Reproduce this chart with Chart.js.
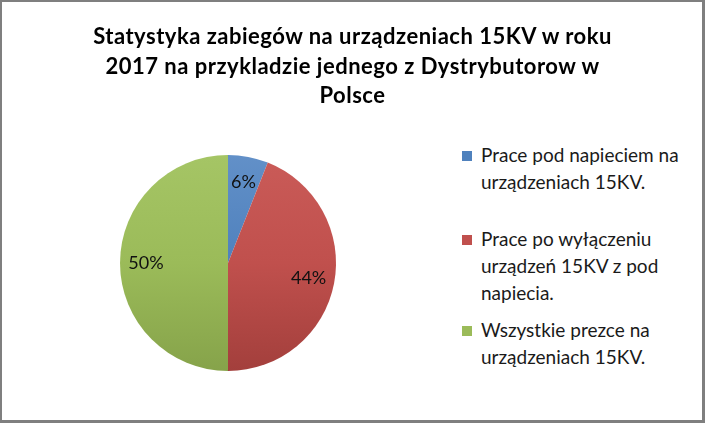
<!DOCTYPE html>
<html>
<head>
<meta charset="utf-8">
<script src="https://cdn.jsdelivr.net/npm/chart.js@4.4.1/dist/chart.umd.min.js"></script>
<style>
  html, body { margin: 0; padding: 0; background: #fff; }
  #wrap { position: relative; width: 705px; height: 423px; overflow: hidden; background: #fff; }
  #frame { position: absolute; left: 0; top: 0; width: 705px; height: 423px; box-sizing: border-box;
           border: 2px solid #7f7f7f; border-right-width: 3px; border-bottom-width: 3px; pointer-events: none; }
  #pie { position: absolute; left: 0; top: 0; }
  #title { position: absolute; left: 0; top: 21px; width: 705px; text-align: center;
           font-family: Lato, sans-serif; font-weight: bold; font-size: 22px; letter-spacing: 0.5px;
           line-height: 29.5px; color: #000; }
  #legend { position: absolute; left: 462px; top: 141px; width: 240px;
            font-family: Lato, sans-serif; font-size: 19px; line-height: 27px; color: #1a1a1a; }
  .item { position: relative; padding-left: 19px; }
  .box { position: absolute; left: 0; top: 10px; width: 10px; height: 10px; }
</style>
</head>
<body>
<div id="wrap">
  <canvas id="pie" width="450" height="423"></canvas>
  <div id="title"></div>
  <div id="legend"></div>
  <div id="frame"></div>
</div>
<script>
// chart data
const titleLines = ['Statystyka zabiegów na urządzeniach 15KV w roku',
                    '2017 na przykladzie jednego z Dystrybutorow w',
                    'Polsce'];
const categories = [
    ['Prace pod napieciem na', 'urządzeniach 15KV.'],
    ['Prace po wyłączeniu', 'urządzeń 15KV z pod', 'napiecia.'],
    ['Wszystkie prezce na', 'urządzeniach 15KV.']
];
const shares = [6, 44, 50];
const colors = ['#4f81bd', '#c0504d', '#9bbb59'];
const lightColors = ['#6290c8', '#ca5b58', '#a5c565'];
const darkColors = ['#41699a', '#a33f3c', '#86a34a'];

// title + legend as html text
document.getElementById('title').innerHTML = titleLines.join('<br>');
const gaps = [30, 10, 0];
document.getElementById('legend').innerHTML = categories.map((lines, i) =>
    `<div class="item" style="margin-bottom:${gaps[i]}px"><span class="box" style="background:${colors[i]}"></span>${lines.join('<br>')}</div>`
).join('');

// percentage labels inside slices
const sliceLabels = {
    id: 'sliceLabels',
    afterDatasetsDraw(chart) {
        const ctx = chart.ctx;
        const meta = chart.getDatasetMeta(0);
        ctx.save();
        ctx.font = '18px Lato, sans-serif';
        ctx.fillStyle = '#111';
        ctx.textAlign = 'center';
        ctx.textBaseline = 'middle';
        meta.data.forEach((arc, i) => {
            const p = arc.getProps(['x', 'y', 'startAngle', 'endAngle', 'outerRadius'], true);
            const mid = (p.startAngle + p.endAngle) / 2;
            const r = p.outerRadius * 0.76;
            ctx.fillText(shares[i] + '%', p.x + Math.cos(mid) * r, p.y + Math.sin(mid) * r);
        });
        ctx.restore();
    }
};

function shade(context) {
    const area = context.chart.chartArea;
    const i = context.dataIndex;
    if (!area) return colors[i];
    const g = context.chart.ctx.createLinearGradient(0, area.top, 0, area.bottom);
    g.addColorStop(0, lightColors[i]);
    g.addColorStop(0.5, colors[i]);
    g.addColorStop(1, darkColors[i]);
    return g;
}

new Chart(document.getElementById('pie'), {
    type: 'pie',
    data: {
        labels: categories.map(l => l.join(' ')),
        datasets: [{
            data: shares,
            backgroundColor: shade,
            borderWidth: 0
        }]
    },
    options: {
        responsive: false,
        animation: false,
        layout: { padding: { left: 120, right: 114, top: 155, bottom: 52 } },
        plugins: {
            legend: { display: false },
            title: { display: false },
            tooltip: { enabled: false }
        }
    },
    plugins: [sliceLabels]
});
</script>
</body>
</html>
